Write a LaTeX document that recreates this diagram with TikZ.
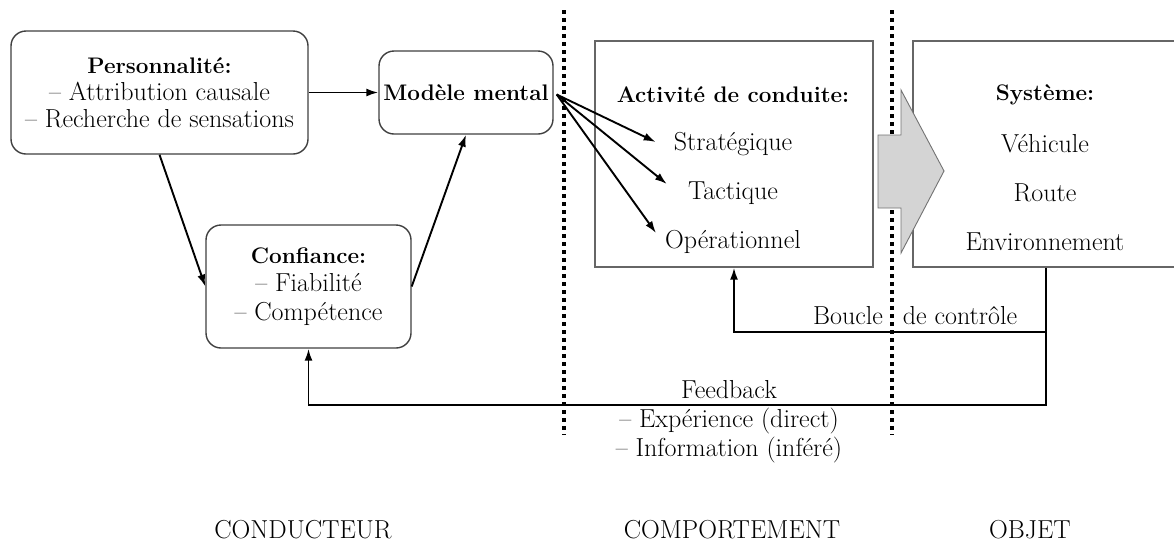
\documentclass[tikz,border=0pt]{standalone}
\usetikzlibrary{arrows.meta,calc}
\begin{document}
\begin{tikzpicture}[x=1pt,y=-1pt,
  every node/.style={font=\fontsize{26}{27}\selectfont, inner sep=2pt},
  bt/.style={font=\fontsize{22.5}{27}\selectfont\bfseries},
  rbox/.style={draw=black!75, line width=1.4pt, rounded corners=15pt, align=center, inner sep=0pt},
  sbox/.style={draw=black!60, line width=1.4pt, inner sep=0pt},
  arr/.style={line width=1.9pt, -{Latex[length=12pt,width=8pt]}},
  sep/.style={line width=3.8pt, dash pattern=on 3.8pt off 4.2pt},
  bigarrow/.style={fill=black!17, draw=black!55, line width=0.9pt, line join=miter},
]
\clip (0,0) rectangle (1174,542);
\fill[white] (0,0) rectangle (1174,542);

% separators
\coordinate (s1t) at (564,10); \coordinate (s1b) at (564,435);
\coordinate (s2t) at (892,10); \coordinate (s2b) at (892,435);
\draw[sep] (s1t) -- (s1b);
\draw[sep] (s2t) -- (s2b);

% boxes
\node[rbox, minimum width=297pt, minimum height=123pt] (pers) at (159.5,92.5)
  {{\fontsize{22.5}{27}\selectfont\bfseries Personnalité:}\\– Attribution causale\\– Recherche de sensations};
\node[rbox, minimum width=174pt, minimum height=83pt, font=\fontsize{22.5}{27}\selectfont\bfseries] (modele) at (466,92.5) {Modèle mental};
\node[rbox, minimum width=205pt, minimum height=123pt] (conf) at (308.5,286.5)
  {{\fontsize{22.5}{28.5}\selectfont\bfseries Confiance:}\\[1.5pt]– Fiabilité\\[1.5pt]– Compétence};
\node[sbox, minimum width=278pt, minimum height=226pt] (act) at (734,154) {};
\node[sbox, minimum width=266pt, minimum height=226pt] (sys) at (1046,154) {};

% big arrow
\draw[bigarrow] (878,135) -- (901,135) -- (901,90) -- (944,171) -- (901,253) -- (901,208) -- (878,208) -- cycle;

% activity texts
\node[bt] (acttitle) at (733,95) {Activité de conduite:};
\node (strat) at (733,144) {Stratégique};
\node (tact) at (733,193) {Tactique};
\node (oper) at (733,242) {Opérationnel};

% system texts
\node[bt] (systitle) at (1045,95) {Système:};
\node (veh) at (1045,144) {Véhicule};
\node (route) at (1045,193) {Route};
\node (env) at (1045,242) {Environnement};

% connectors
\draw[arr] (pers.east) -- (modele.west);
\draw[arr] (pers.south) -- (conf.west);
\draw[arr] (conf.east) -- (modele.south);
\coordinate (fanorigin) at ($(modele.east)+(3,2)$);
\draw[arr] (fanorigin) -- ($(strat.west)+(-16,-2)$);
\draw[arr] (fanorigin) -- ($(tact.west)+(-19,-9)$);
\draw[arr] (fanorigin) -- ($(oper.west)+(-7,-9)$);

\coordinate (fby) at (0,405);
\coordinate (loopy) at (0,332);
\draw[arr] (sys.south) -- (sys.south |- fby) -| (conf.south);
\draw[arr] (sys.south |- loopy) -| (act.south);

% labels
\node (boucle) at (848,316) {Boucle};
\node (decontrole) at (960,316) {de contrôle};
\node[align=center, font=\fontsize{26}{29}\selectfont] (feedback) at (729,422)
  {Feedback\\– Expérience (direct)\\– Information (inféré)};

\node (conducteur) at (303,530) {CONDUCTEUR};
\node (comportement) at (732,530) {COMPORTEMENT};
\node (objet) at (1030,530) {OBJET};
\end{tikzpicture}
\end{document}
